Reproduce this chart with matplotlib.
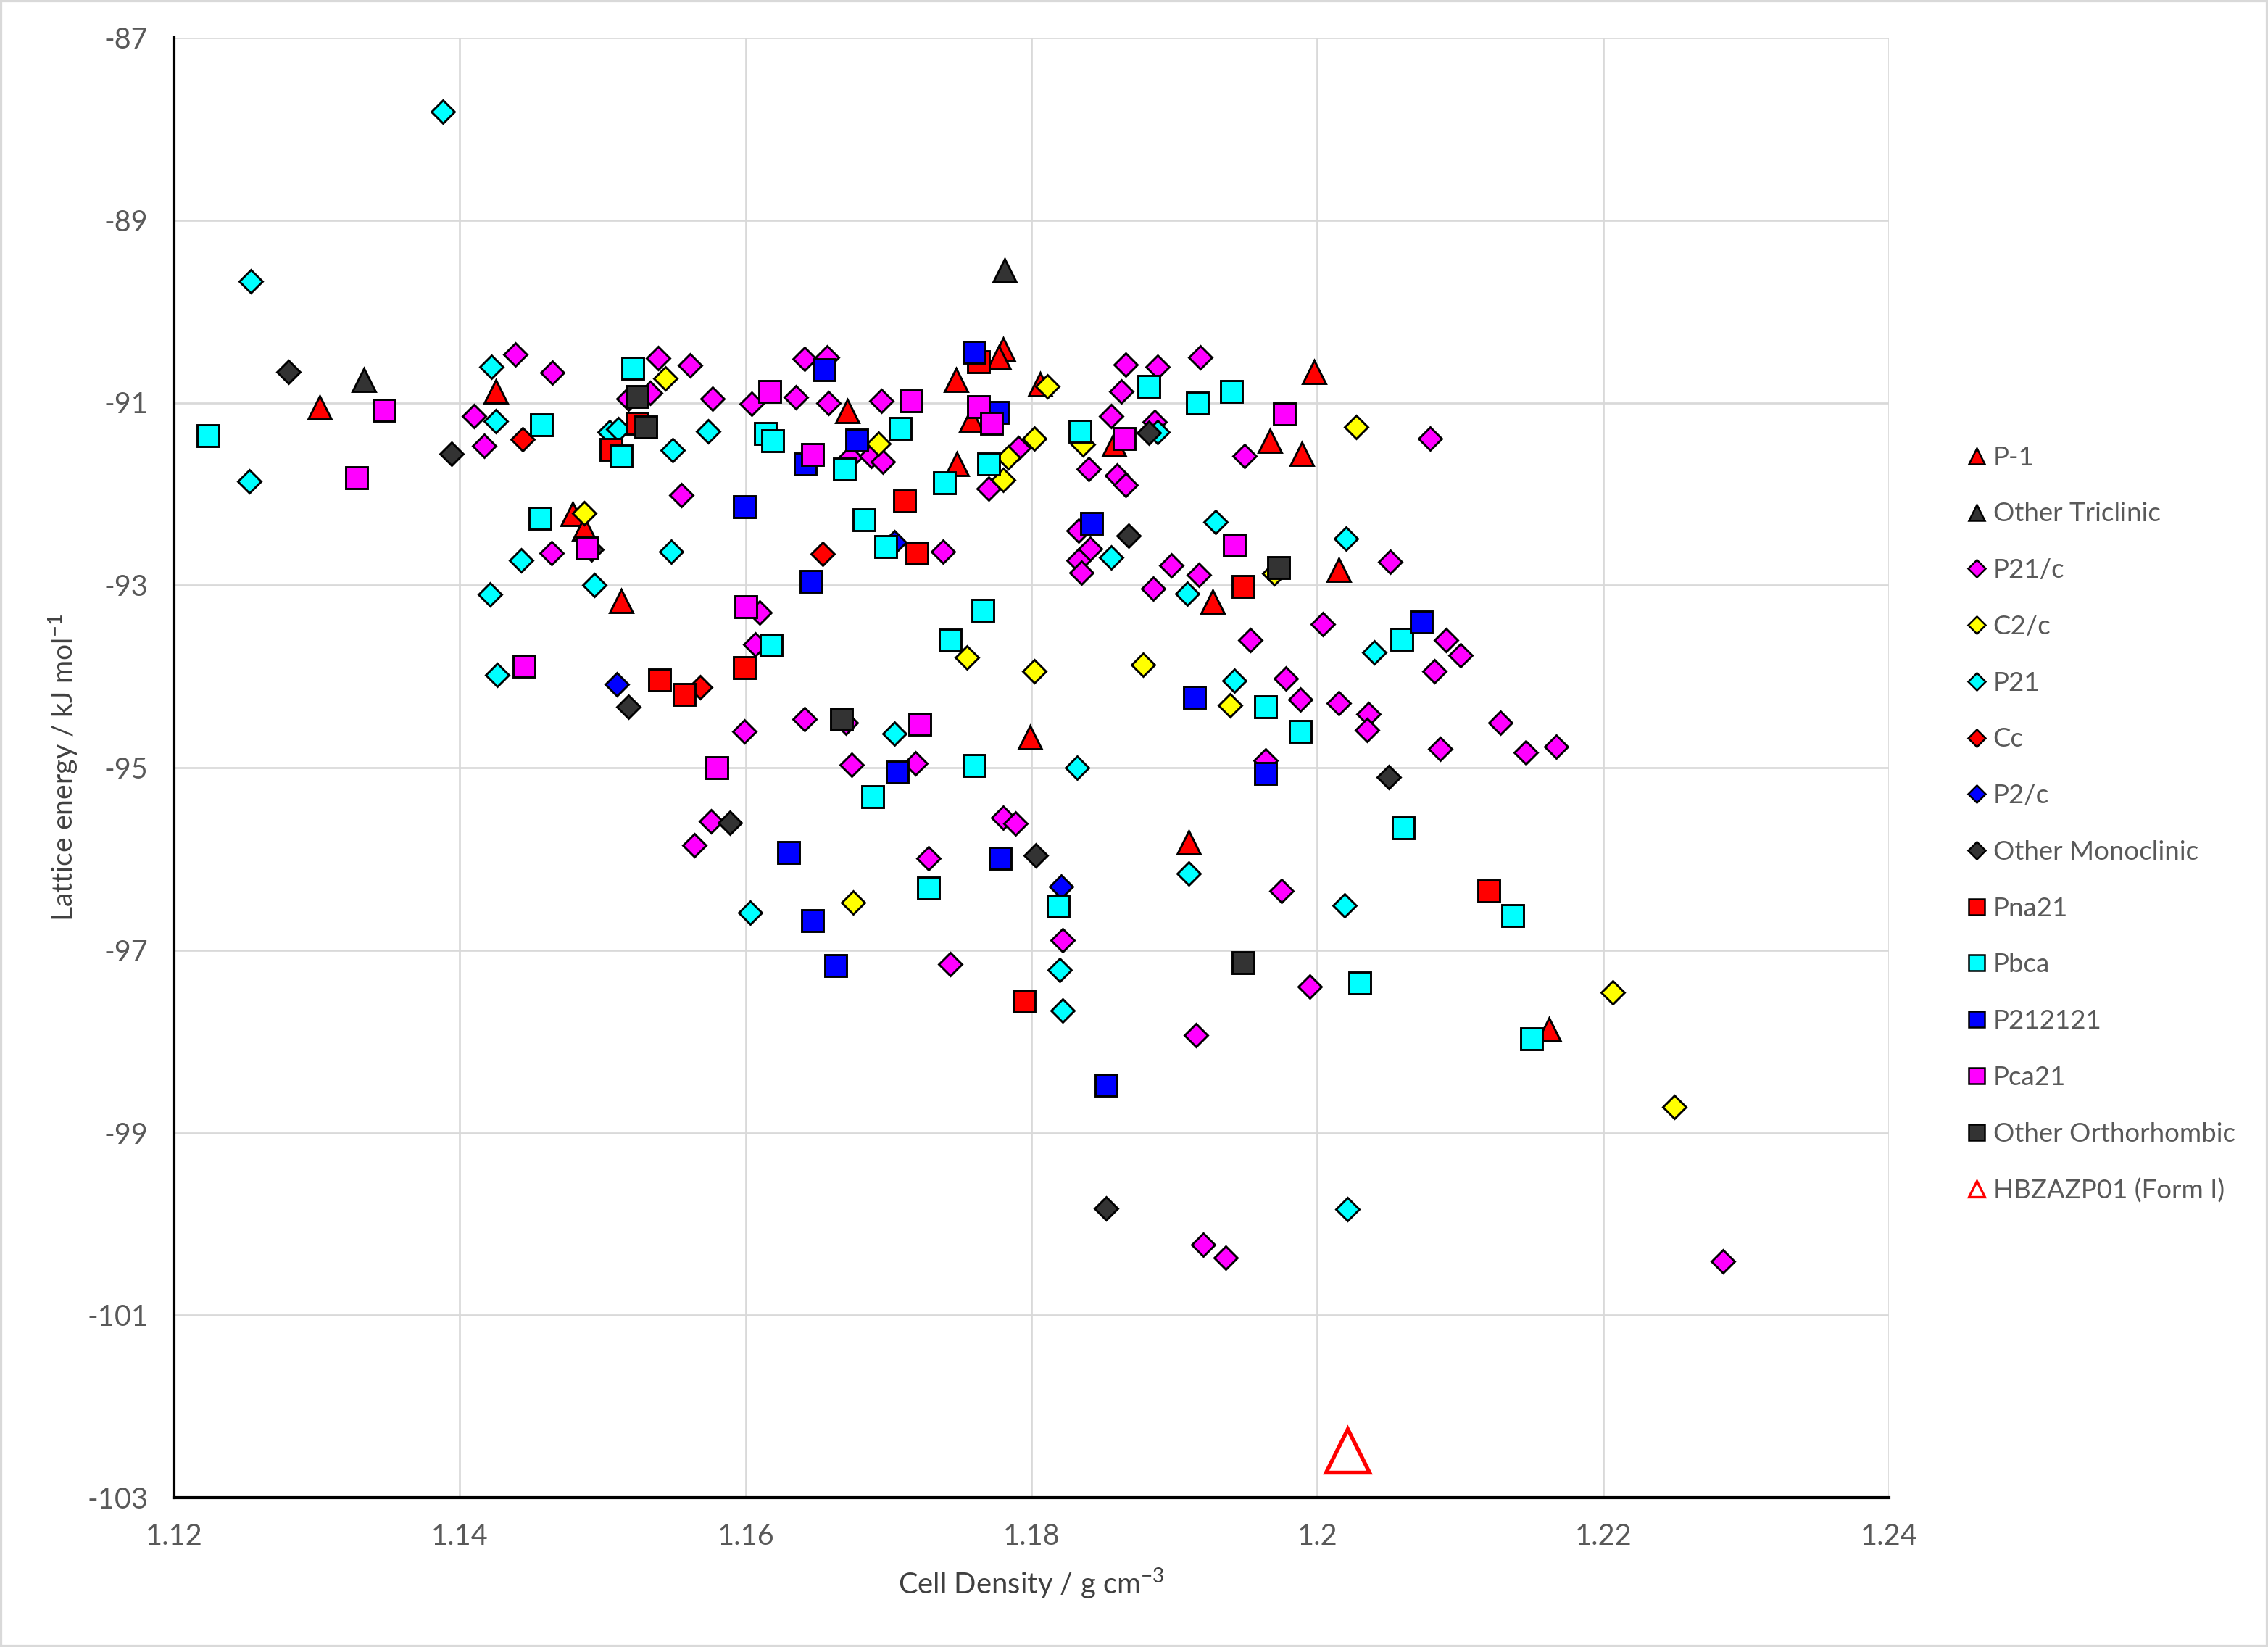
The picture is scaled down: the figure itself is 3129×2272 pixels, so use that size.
import matplotlib
matplotlib.use("Agg")
import matplotlib.pyplot as plt
from matplotlib.lines import Line2D
from matplotlib.patches import Rectangle

plt.rcParams['font.family'] = ['Lato', 'DejaVu Sans']
plt.rcParams['mathtext.fontset'] = 'custom'
plt.rcParams['mathtext.rm'] = 'Lato'
plt.rcParams['axes.unicode_minus'] = False

# ---------------- data ----------------
p1_x = [1.1302, 1.1425, 1.1479, 1.1487, 1.1513, 1.1780, 1.1777, 1.1747, 1.1671, 1.1758, 1.1806,
        1.1748, 1.1858, 1.1967, 1.1989, 1.1998, 1.2015, 1.1927, 1.1799, 1.1910, 1.2162]
p1_y = [-91.05, -90.88, -92.22, -92.38, -93.17, -90.42, -90.50, -90.75, -91.09, -91.19, -90.80,
        -91.67, -91.46, -91.42, -91.56, -90.66, -92.83, -93.18, -94.67, -95.82, -97.87]

otri_x = [1.1333, 1.1781]
otri_y = [-90.75, -89.55]

p21c_x = [1.1439, 1.1465, 1.1410, 1.1417, 1.1539, 1.1561, 1.1533, 1.1518, 1.1577, 1.1604,
          1.1555, 1.1464, 1.1599, 1.1576, 1.1564, 1.1641, 1.1657, 1.1635, 1.1658, 1.1695,
          1.1673, 1.1688, 1.1696, 1.1791, 1.1770, 1.1738, 1.1866, 1.1888, 1.1918, 1.1863,
          1.1856, 1.1886, 1.1840, 1.1860, 1.1866, 1.1949, 1.1833, 1.1841, 1.1833, 1.1835,
          1.1898, 1.1917, 1.2079, 1.2051, 1.1610, 1.1607, 1.1641, 1.1670, 1.1674, 1.1719,
          1.1780, 1.1789, 1.1728, 1.1822, 1.1743, 1.1915, 1.1885, 1.1953, 1.1978, 1.1988,
          1.1964, 1.1975, 1.2004, 1.2090, 1.2100, 1.2082, 1.2015, 1.2036, 1.2035, 1.2128,
          1.2086, 1.2146, 1.2167, 1.1995, 1.1920, 1.1936, 1.2284]
p21c_y = [-90.47, -90.67, -91.15, -91.47, -90.51, -90.59, -90.89, -90.96, -90.96, -91.01,
          -92.01, -92.65, -94.60, -95.59, -95.85, -90.52, -90.50, -90.94, -91.00, -90.98,
          -91.60, -91.58, -91.65, -91.50, -91.94, -92.63, -90.58, -90.61, -90.50, -90.88,
          -91.15, -91.21, -91.73, -91.80, -91.90, -91.58, -92.40, -92.60, -92.73, -92.86,
          -92.78, -92.89, -91.39, -92.74, -93.30, -93.65, -94.47, -94.51, -94.97, -94.95,
          -95.55, -95.61, -95.99, -96.89, -97.15, -97.93, -93.04, -93.60, -94.02, -94.25,
          -94.92, -96.35, -93.43, -93.60, -93.77, -93.94, -94.29, -94.41, -94.59, -94.51,
          -94.79, -94.83, -94.77, -97.40, -100.23, -100.37, -100.41]

c2c_x = [1.1544, 1.1487, 1.1693, 1.1811, 1.1802, 1.1784, 1.1780, 1.1836, 1.2027, 1.1755,
         1.1802, 1.1675, 1.1970, 1.1878, 1.1939, 1.2207, 1.2250]
c2c_y = [-90.73, -92.21, -91.45, -90.82, -91.39, -91.60, -91.85, -91.46, -91.27, -93.79,
         -93.94, -96.48, -92.87, -93.87, -94.32, -97.46, -98.72]

p21_x = [1.1388, 1.1254, 1.1253, 1.1422, 1.1425, 1.1505, 1.1511, 1.1574, 1.1549, 1.1443,
         1.1548, 1.1421, 1.1494, 1.1426, 1.1603, 1.1888, 1.1929, 1.1856, 1.2020, 1.1704,
         1.1832, 1.1820, 1.1822, 1.1909, 1.1942, 1.1910, 1.2040, 1.2019, 1.2021]
p21_y = [-87.81, -89.67, -91.86, -90.61, -91.20, -91.32, -91.29, -91.31, -91.52, -92.73,
         -92.63, -93.10, -93.00, -93.98, -96.59, -91.32, -92.31, -92.70, -92.49, -94.63,
         -95.00, -97.22, -97.66, -93.09, -94.05, -96.16, -93.74, -96.51, -99.84]

cc_x = [1.1444, 1.1568, 1.1654]
cc_y = [-91.40, -94.12, -92.66]

p2c_x = [1.1510, 1.1821, 1.1704]
p2c_y = [-94.09, -96.30, -92.53]

omono_x = [1.1280, 1.1394, 1.1492, 1.1518, 1.1589, 1.1882, 1.1868, 1.1803, 1.2050, 1.1852]
omono_y = [-90.66, -91.56, -92.61, -94.33, -95.60, -91.33, -92.46, -95.96, -95.10, -99.83]

pna21_x = [1.1524, 1.1506, 1.1540, 1.1557, 1.1599, 1.1763, 1.1711, 1.1720, 1.1948, 1.1795, 1.2120]
pna21_y = [-91.23, -91.51, -94.04, -94.20, -93.90, -90.55, -92.08, -92.65, -93.01, -97.56, -96.35]

pbca_x = [1.1224, 1.1457, 1.1521, 1.1513, 1.1456, 1.1614, 1.1619, 1.1708, 1.1669, 1.1770,
          1.1739, 1.1683, 1.1698, 1.1882, 1.1916, 1.1940, 1.1834, 1.1618, 1.1766, 1.1743,
          1.1760, 1.1689, 1.1728, 1.1819, 1.1964, 1.1988, 1.2059, 1.2060, 1.2137, 1.2030,
          1.2150]
pbca_y = [-91.36, -91.24, -90.62, -91.58, -92.27, -91.34, -91.42, -91.28, -91.73, -91.67,
          -91.88, -92.28, -92.58, -90.82, -91.00, -90.88, -91.31, -93.66, -93.28, -93.60,
          -94.98, -95.32, -96.32, -96.52, -94.33, -94.60, -93.59, -95.66, -96.62, -97.36,
          -97.97]

p212121_x = [1.1760, 1.1655, 1.1678, 1.1642, 1.1776, 1.1599, 1.1646, 1.1842, 1.1706, 1.1630,
             1.1778, 1.1647, 1.1663, 1.1914, 1.1964, 1.2073, 1.1852]
p212121_y = [-90.45, -90.64, -91.41, -91.67, -91.11, -92.14, -92.96, -92.32, -95.05, -95.93,
             -95.99, -96.68, -97.17, -94.23, -95.06, -93.40, -98.48]

pca21_x = [1.1347, 1.1328, 1.1489, 1.1600, 1.1445, 1.1580, 1.1617, 1.1716, 1.1647, 1.1763,
           1.1772, 1.1977, 1.1865, 1.1942, 1.1722]
pca21_y = [-91.08, -91.82, -92.59, -93.24, -93.89, -95.00, -90.88, -90.98, -91.57, -91.04,
           -91.23, -91.12, -91.39, -92.56, -94.52]

oortho_x = [1.1524, 1.1530, 1.1973, 1.1667, 1.1948]
oortho_y = [-90.93, -91.27, -92.81, -94.47, -97.14]

form1_x = [1.2021]
form1_y = [-102.48]

x_ticks = [1.12, 1.14, 1.16, 1.18, 1.2, 1.22, 1.24]
x_ticklabels = ['1.12', '1.14', '1.16', '1.18', '1.2', '1.22', '1.24']
y_ticks = [-87, -89, -91, -93, -95, -97, -99, -101, -103]

# ---------------- styles ----------------
DARK = '#333333'
series = [
    ('P-1', p1_x, p1_y, '^', 'red'),
    ('Other Triclinic', otri_x, otri_y, '^', DARK),
    ('P21/c', p21c_x, p21c_y, 'D', '#FF00FF'),
    ('C2/c', c2c_x, c2c_y, 'D', '#FFFF00'),
    ('P21', p21_x, p21_y, 'D', '#00FFFF'),
    ('Cc', cc_x, cc_y, 'D', 'red'),
    ('P2/c', p2c_x, p2c_y, 'D', '#0000FF'),
    ('Other Monoclinic', omono_x, omono_y, 'D', DARK),
    ('Pna21', pna21_x, pna21_y, 's', 'red'),
    ('Pbca', pbca_x, pbca_y, 's', '#00FFFF'),
    ('P212121', p212121_x, p212121_y, 's', '#0000FF'),
    ('Pca21', pca21_x, pca21_y, 's', '#FF00FF'),
    ('Other Orthorhombic', oortho_x, oortho_y, 's', DARK),
]
msize = {'^': 7.6, 'D': 5.6, 's': 7.4}
lsize = {'^': 5.4, 'D': 4.0, 's': 5.2}

W, H = 3129, 2272
fig = plt.figure(figsize=(W / 300, H / 300), dpi=300)
ax = fig.add_axes([240 / W, 1 - 2066 / H, (2606 - 240) / W, (2066 - 52) / H])

handles = []
for i, (name, xs, ys, m, c) in enumerate(series):
    ax.plot(xs, ys, linestyle='none', marker=m, markersize=msize[m], markerfacecolor=c,
            markeredgecolor='black', markeredgewidth=0.7, zorder=3 + i * 0.01, clip_on=False)
    handles.append(Line2D([], [], linestyle='none', marker=m, markersize=lsize[m],
                          markerfacecolor=c, markeredgecolor='black', markeredgewidth=0.6))
ax.plot(form1_x, form1_y, linestyle='none', marker='^', markersize=14.5, markerfacecolor='none',
        markeredgecolor='red', markeredgewidth=1.3, zorder=4)
handles.append(Line2D([], [], linestyle='none', marker='^', markersize=5.2, markerfacecolor='none',
                      markeredgecolor='red', markeredgewidth=0.8))
labels = [s[0] for s in series] + ['HBZAZP01 (Form I)']

ax.set_xlim(1.12, 1.24)
ax.set_ylim(-103, -87)
ax.set_xticks(x_ticks)
ax.set_xticklabels(x_ticklabels)
ax.set_yticks(y_ticks)
ax.grid(True, color='#d9d9d9', linewidth=0.65, zorder=0)
ax.set_axisbelow(True)
for s in ['top', 'right']:
    ax.spines[s].set_visible(False)
for s in ['left', 'bottom']:
    ax.spines[s].set_color('black')
    ax.spines[s].set_linewidth(1.0)
ax.tick_params(axis='both', length=0, labelsize=9.5, labelcolor='#595959', pad=8.5)

ax.set_xlabel('Cell Density / g cm$^{\\mathregular{-3}}$', fontsize=9.6, color='#404040')
ax.set_ylabel('Lattice energy / kJ mol$^{\\mathregular{-1}}$', fontsize=9.4, color='#404040')
ax.xaxis.set_label_coords(0.5, -0.059)
ax.xaxis.label.set_va('center')
ax.yaxis.set_label_coords(-0.0642, 0.5)
ax.yaxis.label.set_va('center')

fig.legend(handles, labels, loc='center left', bbox_to_anchor=(2711 / W, 1 - 1137 / H),
           frameon=False, fontsize=8.8, labelcolor='#595959', handlelength=0.85,
           handletextpad=0.2, labelspacing=1.22, borderpad=0, borderaxespad=0)

fig.patches.append(Rectangle((0, 0), 1, 1, transform=fig.transFigure, fill=False,
                             edgecolor='#d9d9d9', linewidth=1.5))

fig.savefig('out.png', dpi=300, facecolor='white')
